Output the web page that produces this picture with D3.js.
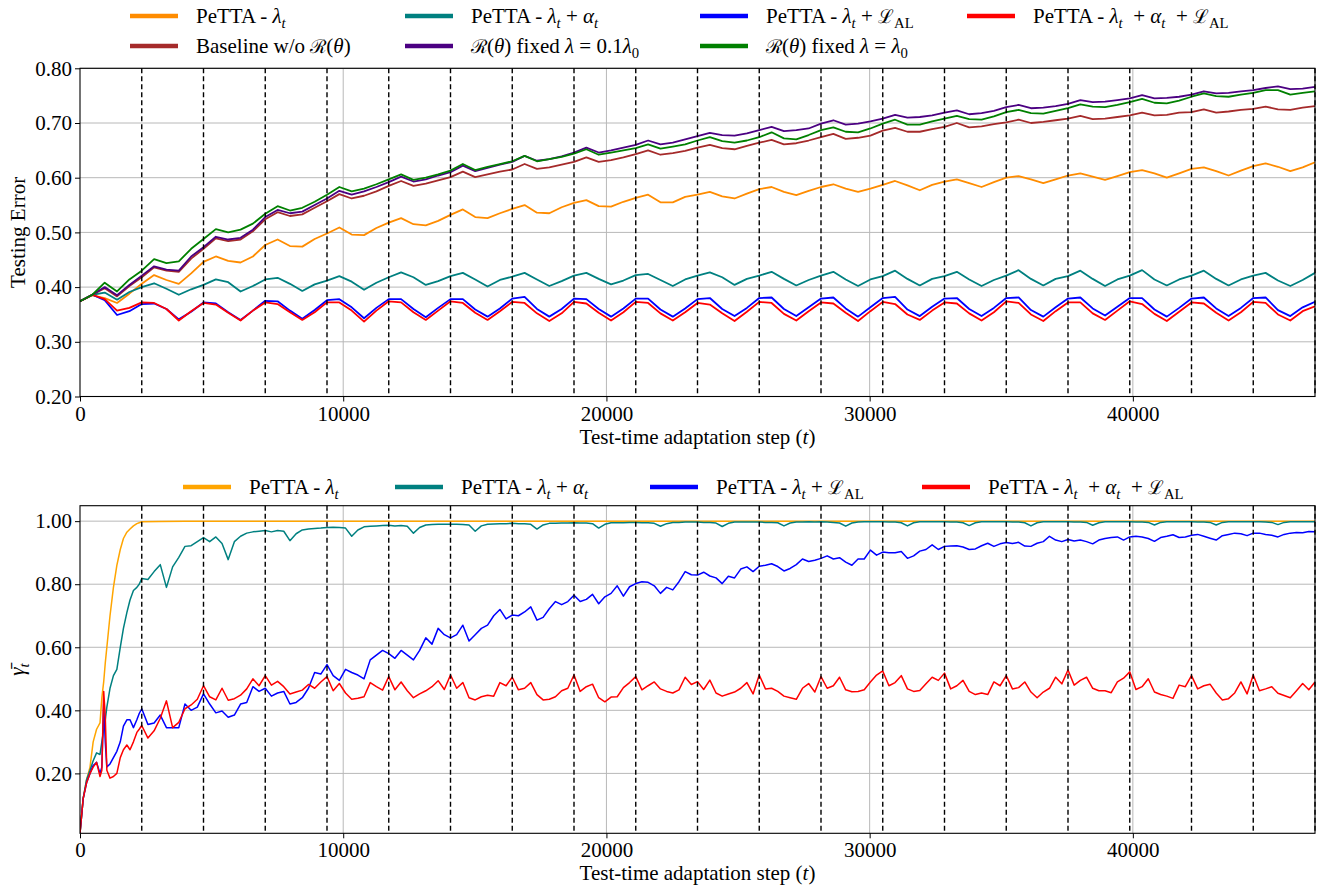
<!DOCTYPE html>
<html lang="en">
<head>
<meta charset="UTF-8">
<title>PeTTA testing error and gamma</title>
<script src="https://d3js.org/d3.v7.min.js"></script>
<style>
  body { margin: 0; background: #fff; }
  svg text { font-family: "Liberation Serif", "DejaVu Serif", serif; fill: #000; white-space: pre; }
</style>
</head>
<body>
<script>
// ---------- data ----------
// top panel: one sample every 469.2 steps (5 per domain of 2346 steps)
var topStep = 469.2;
var domainLen = 2346;
var nDomains = 20;

var errLambda = [
  0.374, 0.385, 0.380, 0.371, 0.388,
  0.406, 0.422, 0.413, 0.406, 0.425,
  0.446, 0.456, 0.448, 0.445, 0.456,
  0.477, 0.487, 0.475, 0.474, 0.488,
  0.498, 0.509, 0.496, 0.495, 0.508,
  0.518, 0.526, 0.515, 0.513, 0.521,
  0.532, 0.542, 0.528, 0.526, 0.535,
  0.543, 0.550, 0.536, 0.535, 0.546,
  0.554, 0.559, 0.548, 0.547, 0.556,
  0.563, 0.569, 0.555, 0.555, 0.565,
  0.569, 0.574, 0.566, 0.562, 0.571,
  0.579, 0.583, 0.574, 0.568, 0.576,
  0.583, 0.588, 0.580, 0.574, 0.580,
  0.587, 0.594, 0.586, 0.577, 0.587,
  0.593, 0.597, 0.590, 0.583, 0.592,
  0.600, 0.603, 0.597, 0.590, 0.597,
  0.604, 0.608, 0.602, 0.596, 0.603,
  0.610, 0.614, 0.608, 0.600, 0.608,
  0.616, 0.619, 0.612, 0.604, 0.613,
  0.621, 0.626, 0.620, 0.612, 0.619,
  0.628];

var errLambdaAlpha = [
  0.374, 0.386, 0.390, 0.377, 0.391,
  0.400, 0.407, 0.397, 0.386, 0.396,
  0.404, 0.414, 0.409, 0.392, 0.402,
  0.414, 0.417, 0.406, 0.393, 0.405,
  0.412, 0.420, 0.410, 0.395, 0.408,
  0.418, 0.427, 0.418, 0.404, 0.411,
  0.420, 0.426, 0.414, 0.401, 0.413,
  0.419, 0.426, 0.414, 0.402, 0.411,
  0.421, 0.426, 0.415, 0.405, 0.412,
  0.422, 0.424, 0.413, 0.402, 0.414,
  0.421, 0.427, 0.418, 0.404, 0.415,
  0.421, 0.428, 0.415, 0.403, 0.413,
  0.421, 0.428, 0.414, 0.402, 0.414,
  0.420, 0.430, 0.415, 0.403, 0.415,
  0.420, 0.428, 0.414, 0.402, 0.413,
  0.421, 0.431, 0.415, 0.403, 0.415,
  0.420, 0.430, 0.415, 0.402, 0.414,
  0.421, 0.431, 0.414, 0.403, 0.414,
  0.421, 0.430, 0.415, 0.403, 0.414,
  0.421, 0.426, 0.412, 0.402, 0.413,
  0.426];

var errLambdaAL = [
  0.374, 0.386, 0.376, 0.349, 0.356,
  0.369, 0.370, 0.360, 0.341, 0.355,
  0.372, 0.370, 0.354, 0.340, 0.357,
  0.375, 0.374, 0.357, 0.342, 0.358,
  0.376, 0.378, 0.363, 0.343, 0.362,
  0.378, 0.378, 0.360, 0.345, 0.362,
  0.378, 0.378, 0.359, 0.346, 0.361,
  0.379, 0.382, 0.360, 0.346, 0.360,
  0.379, 0.378, 0.360, 0.346, 0.361,
  0.379, 0.379, 0.359, 0.346, 0.361,
  0.378, 0.380, 0.360, 0.347, 0.362,
  0.380, 0.381, 0.360, 0.347, 0.363,
  0.379, 0.381, 0.361, 0.346, 0.363,
  0.380, 0.382, 0.359, 0.347, 0.364,
  0.379, 0.380, 0.360, 0.347, 0.362,
  0.380, 0.381, 0.358, 0.346, 0.363,
  0.379, 0.381, 0.361, 0.348, 0.364,
  0.380, 0.380, 0.359, 0.346, 0.362,
  0.379, 0.381, 0.361, 0.347, 0.362,
  0.380, 0.381, 0.358, 0.347, 0.363,
  0.373];

var errFull = [
  0.374, 0.386, 0.378, 0.357, 0.362,
  0.372, 0.371, 0.360, 0.339, 0.356,
  0.371, 0.368, 0.353, 0.339, 0.357,
  0.372, 0.369, 0.354, 0.340, 0.354,
  0.372, 0.372, 0.357, 0.337, 0.357,
  0.374, 0.372, 0.354, 0.340, 0.357,
  0.374, 0.371, 0.353, 0.340, 0.356,
  0.373, 0.371, 0.352, 0.338, 0.352,
  0.373, 0.370, 0.353, 0.339, 0.354,
  0.373, 0.371, 0.352, 0.339, 0.354,
  0.371, 0.368, 0.352, 0.338, 0.355,
  0.373, 0.371, 0.351, 0.339, 0.356,
  0.372, 0.370, 0.353, 0.338, 0.356,
  0.373, 0.369, 0.350, 0.340, 0.357,
  0.372, 0.370, 0.352, 0.339, 0.354,
  0.374, 0.371, 0.350, 0.338, 0.356,
  0.372, 0.372, 0.352, 0.340, 0.357,
  0.374, 0.369, 0.351, 0.338, 0.355,
  0.372, 0.370, 0.353, 0.339, 0.354,
  0.373, 0.371, 0.350, 0.339, 0.356,
  0.365];

var errBaseline = [
  0.374, 0.386, 0.398, 0.383, 0.402,
  0.418, 0.436, 0.430, 0.428, 0.452,
  0.470, 0.489, 0.484, 0.487, 0.502,
  0.524, 0.537, 0.530, 0.533, 0.545,
  0.557, 0.570, 0.562, 0.567, 0.575,
  0.585, 0.594, 0.585, 0.589, 0.595,
  0.601, 0.611, 0.601, 0.606, 0.611,
  0.615, 0.625, 0.616, 0.619, 0.624,
  0.629, 0.637, 0.629, 0.632, 0.637,
  0.643, 0.650, 0.642, 0.645, 0.649,
  0.655, 0.660, 0.654, 0.652, 0.658,
  0.664, 0.669, 0.661, 0.663, 0.668,
  0.674, 0.680, 0.671, 0.673, 0.677,
  0.686, 0.691, 0.684, 0.684, 0.689,
  0.693, 0.700, 0.692, 0.694, 0.698,
  0.701, 0.706, 0.700, 0.702, 0.705,
  0.708, 0.713, 0.707, 0.708, 0.711,
  0.714, 0.719, 0.714, 0.715, 0.719,
  0.720, 0.725, 0.719, 0.721, 0.724,
  0.726, 0.730, 0.725, 0.724, 0.728,
  0.731];

var errFixedTenth = [
  0.374, 0.386, 0.400, 0.385, 0.404,
  0.421, 0.438, 0.432, 0.430, 0.456,
  0.473, 0.492, 0.487, 0.490, 0.505,
  0.528, 0.541, 0.535, 0.538, 0.550,
  0.562, 0.576, 0.569, 0.575, 0.583,
  0.592, 0.602, 0.593, 0.597, 0.604,
  0.610, 0.622, 0.612, 0.618, 0.624,
  0.629, 0.640, 0.631, 0.634, 0.639,
  0.646, 0.655, 0.646, 0.650, 0.655,
  0.660, 0.668, 0.661, 0.664, 0.670,
  0.676, 0.682, 0.678, 0.677, 0.681,
  0.687, 0.693, 0.685, 0.687, 0.690,
  0.699, 0.705, 0.697, 0.699, 0.703,
  0.708, 0.715, 0.710, 0.711, 0.714,
  0.719, 0.723, 0.716, 0.718, 0.722,
  0.729, 0.733, 0.727, 0.728, 0.731,
  0.735, 0.742, 0.738, 0.739, 0.742,
  0.745, 0.751, 0.745, 0.746, 0.748,
  0.752, 0.758, 0.754, 0.755, 0.758,
  0.760, 0.764, 0.767, 0.762, 0.763,
  0.766];

var errFixedFull = [
  0.374, 0.386, 0.408, 0.392, 0.414,
  0.430, 0.451, 0.444, 0.447, 0.470,
  0.488, 0.506, 0.500, 0.505, 0.516,
  0.534, 0.548, 0.540, 0.545, 0.556,
  0.569, 0.583, 0.575, 0.580, 0.588,
  0.597, 0.606, 0.596, 0.600, 0.606,
  0.613, 0.625, 0.614, 0.620, 0.625,
  0.630, 0.640, 0.630, 0.634, 0.638,
  0.644, 0.652, 0.642, 0.646, 0.650,
  0.654, 0.661, 0.653, 0.657, 0.661,
  0.668, 0.674, 0.667, 0.664, 0.668,
  0.674, 0.683, 0.672, 0.670, 0.678,
  0.687, 0.692, 0.684, 0.683, 0.690,
  0.699, 0.706, 0.697, 0.697, 0.703,
  0.708, 0.713, 0.707, 0.706, 0.712,
  0.720, 0.724, 0.718, 0.717, 0.722,
  0.727, 0.734, 0.730, 0.729, 0.733,
  0.738, 0.744, 0.737, 0.736, 0.741,
  0.748, 0.754, 0.749, 0.748, 0.752,
  0.755, 0.760, 0.760, 0.752, 0.755,
  0.758];

// bottom panel: dense steps during the first domain, then every 234.6 steps
var gammaEarlySteps = [0, 120, 250, 380, 500, 630, 760, 830, 900, 960, 1020,
  1140, 1270, 1400, 1530, 1650, 1780, 1900, 2030, 2160, 2250];
var gammaStep = 234.6;

var gammaLambdaSteps = [0, 120, 250, 380, 500, 630, 760, 830, 900, 960, 1020,
  1140, 1270, 1400, 1530, 1650, 1780, 1900, 2030, 2160, 2250, 2346, 3000, 4000, 5000, 46920];
var gammaLambda = [0.01, 0.12, 0.18, 0.22, 0.30, 0.34, 0.36, 0.44, 0.49, 0.55, 0.60,
  0.70, 0.79, 0.86, 0.91, 0.945, 0.965, 0.975, 0.985, 0.992, 0.995, 0.998, 0.999, 0.9995, 1.0, 1.0];

var gammaLambdaAlpha = [
  0.01, 0.12, 0.18, 0.21, 0.24, 0.265, 0.26, 0.30, 0.34, 0.37, 0.41,
  0.47, 0.51, 0.53, 0.60, 0.66, 0.71, 0.75, 0.78, 0.79, 0.80,
  0.818, 0.815, 0.840, 0.862, 0.790, 0.855, 0.885, 0.920, 0.922, 0.935,
  0.948, 0.935, 0.950, 0.929, 0.878, 0.935, 0.952, 0.962, 0.966, 0.968,
  0.970, 0.966, 0.970, 0.968, 0.938, 0.960, 0.972, 0.975, 0.977, 0.978,
  0.980, 0.981, 0.980, 0.978, 0.952, 0.972, 0.982, 0.984, 0.985, 0.986,
  0.987, 0.985, 0.986, 0.984, 0.962, 0.980, 0.988, 0.989, 0.990, 0.990,
  0.990, 0.990, 0.989, 0.988, 0.968, 0.985, 0.990, 0.991, 0.992, 0.992,
  0.993, 0.992, 0.992, 0.990, 0.975, 0.988, 0.993, 0.993, 0.994, 0.994,
  0.995, 0.994, 0.994, 0.992, 0.978, 0.990, 0.995, 0.995, 0.995, 0.996,
  0.996, 0.995, 0.995, 0.993, 0.984, 0.992, 0.996, 0.996, 0.997, 0.997,
  0.997, 0.996, 0.996, 0.994, 0.983, 0.993, 0.997, 0.997, 0.997, 0.997,
  0.997, 0.996, 0.996, 0.995, 0.985, 0.994, 0.997, 0.997, 0.998, 0.997,
  0.998, 0.997, 0.996, 0.994, 0.984, 0.994, 0.997, 0.998, 0.998, 0.998,
  0.998, 0.997, 0.997, 0.995, 0.985, 0.995, 0.998, 0.998, 0.998, 0.998,
  0.998, 0.997, 0.997, 0.995, 0.986, 0.995, 0.998, 0.998, 0.998, 0.998,
  0.998, 0.997, 0.997, 0.995, 0.985, 0.995, 0.998, 0.998, 0.998, 0.998,
  0.998, 0.997, 0.997, 0.996, 0.987, 0.995, 0.998, 0.998, 0.998, 0.998,
  0.998, 0.997, 0.997, 0.996, 0.988, 0.996, 0.998, 0.998, 0.998, 0.998,
  0.998, 0.997, 0.997, 0.996, 0.988, 0.996, 0.998, 0.998, 0.998, 0.998,
  0.998, 0.998, 0.997, 0.996, 0.989, 0.996, 0.998, 0.998, 0.998, 0.998,
  0.998];

var gammaLambdaAL = [
  0.01, 0.12, 0.17, 0.20, 0.225, 0.235, 0.20, 0.22, 0.42, 0.30, 0.22,
  0.23, 0.25, 0.27, 0.30, 0.35, 0.37, 0.37, 0.345, 0.37, 0.39,
  0.405, 0.355, 0.360, 0.385, 0.345, 0.345, 0.345, 0.420, 0.400, 0.410,
  0.452, 0.420, 0.392, 0.398, 0.378, 0.385, 0.420, 0.425, 0.475, 0.460,
  0.470, 0.445, 0.455, 0.460, 0.420, 0.425, 0.440, 0.470, 0.520, 0.515,
  0.545, 0.510, 0.495, 0.530, 0.520, 0.512, 0.500, 0.560, 0.575, 0.590,
  0.580, 0.565, 0.590, 0.575, 0.560, 0.590, 0.630, 0.610, 0.660, 0.640,
  0.630, 0.640, 0.670, 0.620, 0.640, 0.660, 0.670, 0.700, 0.720, 0.690,
  0.702, 0.700, 0.712, 0.728, 0.686, 0.695, 0.722, 0.745, 0.735, 0.745,
  0.765, 0.745, 0.752, 0.768, 0.738, 0.760, 0.771, 0.795, 0.762, 0.792,
  0.802, 0.808, 0.806, 0.795, 0.771, 0.790, 0.782, 0.808, 0.840, 0.830,
  0.829, 0.838, 0.826, 0.820, 0.802, 0.825, 0.820, 0.848, 0.855, 0.840,
  0.857, 0.860, 0.865, 0.856, 0.842, 0.850, 0.862, 0.880, 0.872, 0.876,
  0.882, 0.890, 0.880, 0.884, 0.870, 0.860, 0.880, 0.880, 0.908, 0.892,
  0.902, 0.900, 0.900, 0.904, 0.882, 0.890, 0.905, 0.910, 0.925, 0.910,
  0.920, 0.921, 0.922, 0.918, 0.910, 0.912, 0.922, 0.930, 0.920, 0.928,
  0.932, 0.929, 0.933, 0.921, 0.920, 0.930, 0.935, 0.952, 0.940, 0.935,
  0.942, 0.937, 0.940, 0.935, 0.928, 0.940, 0.945, 0.948, 0.950, 0.940,
  0.950, 0.952, 0.950, 0.945, 0.936, 0.948, 0.952, 0.957, 0.948, 0.950,
  0.955, 0.958, 0.952, 0.946, 0.940, 0.954, 0.958, 0.962, 0.960, 0.954,
  0.962, 0.962, 0.958, 0.955, 0.950, 0.958, 0.962, 0.964, 0.963, 0.967,
  0.966];

var gammaFull = [
  0.01, 0.12, 0.17, 0.20, 0.22, 0.235, 0.19, 0.21, 0.46, 0.38, 0.21,
  0.185, 0.19, 0.20, 0.25, 0.275, 0.29, 0.275, 0.30, 0.33, 0.34,
  0.352, 0.312, 0.335, 0.375, 0.430, 0.345, 0.362, 0.405, 0.417, 0.435,
  0.478, 0.443, 0.433, 0.470, 0.432, 0.437, 0.448, 0.468, 0.500, 0.478,
  0.510, 0.480, 0.492, 0.475, 0.452, 0.458, 0.464, 0.482, 0.470, 0.490,
  0.507, 0.462, 0.485, 0.455, 0.435, 0.438, 0.443, 0.488, 0.475, 0.464,
  0.507, 0.465, 0.490, 0.462, 0.440, 0.452, 0.462, 0.475, 0.494, 0.466,
  0.512, 0.470, 0.488, 0.440, 0.433, 0.443, 0.448, 0.445, 0.488, 0.478,
  0.505, 0.465, 0.470, 0.488, 0.450, 0.433, 0.435, 0.443, 0.462, 0.470,
  0.512, 0.460, 0.475, 0.483, 0.440, 0.427, 0.442, 0.443, 0.472, 0.488,
  0.507, 0.465, 0.478, 0.490, 0.468, 0.460, 0.455, 0.465, 0.505, 0.482,
  0.491, 0.466, 0.496, 0.455, 0.445, 0.452, 0.458, 0.470, 0.488, 0.452,
  0.512, 0.468, 0.470, 0.460, 0.445, 0.440, 0.435, 0.470, 0.485, 0.458,
  0.507, 0.470, 0.478, 0.505, 0.465, 0.459, 0.460, 0.465, 0.490, 0.512,
  0.525, 0.478, 0.488, 0.510, 0.468, 0.460, 0.463, 0.484, 0.505, 0.495,
  0.518, 0.468, 0.478, 0.495, 0.460, 0.450, 0.455, 0.450, 0.490, 0.478,
  0.510, 0.468, 0.472, 0.490, 0.458, 0.440, 0.458, 0.470, 0.505, 0.484,
  0.528, 0.480, 0.495, 0.505, 0.470, 0.462, 0.462, 0.456, 0.490, 0.502,
  0.522, 0.466, 0.475, 0.500, 0.458, 0.450, 0.445, 0.438, 0.480, 0.475,
  0.510, 0.468, 0.478, 0.483, 0.455, 0.433, 0.437, 0.455, 0.490, 0.452,
  0.512, 0.462, 0.468, 0.475, 0.454, 0.447, 0.440, 0.462, 0.485, 0.465,
  0.490];

var xTicks = [0, 10000, 20000, 30000, 40000];
var errTicks = [0.20, 0.30, 0.40, 0.50, 0.60, 0.70, 0.80];
var gammaTicks = [0.20, 0.40, 0.60, 0.80, 1.00];

// label pieces: [text, kind]  kind: r roman, i italic, s italic subscript, sr roman subscript, c script
var lamT = [["λ", "i"], ["t", "s"]];
var alphaT = [["α", "i"], ["t", "s"]];
var calL = [["ℒ", "c"], ["AL", "sr"]];
var calR = [["ℛ", "c"], ["(", "r"], ["θ", "i"], [")", "r"]];
var labLambda = [["PeTTA - ", "r"]].concat(lamT);
var labLambdaAlpha = labLambda.concat([[" + ", "r"]], alphaT);
var labLambdaAL = labLambda.concat([[" + ", "r"]], calL);
var labFull = labLambda.concat([["  + ", "r"]], alphaT, [["  + ", "r"]], calL);
var labBaseline = [["Baseline w/o ", "r"]].concat(calR);
var labTenth = calR.concat([[" fixed ", "r"], ["λ", "i"], [" = 0.1", "r"], ["λ", "i"], ["0", "sr"]]);
var labFixed = calR.concat([[" fixed ", "r"], ["λ", "i"], [" = ", "r"], ["λ", "i"], ["0", "sr"]]);

var topSeries = [
  { values: errLambda, color: "#ff8c00", label: labLambda },
  { values: errLambdaAlpha, color: "#008080", label: labLambdaAlpha },
  { values: errLambdaAL, color: "#0000ff", label: labLambdaAL },
  { values: errFull, color: "#ff0000", label: labFull },
  { values: errBaseline, color: "#a52a2a", label: labBaseline },
  { values: errFixedTenth, color: "#4b0082", label: labTenth },
  { values: errFixedFull, color: "#008000", label: labFixed }
];

var gammaSteps = gammaEarlySteps.concat(d3.range(10, 201).map(function (j) { return j * gammaStep; }));
var bottomSeries = [
  { steps: gammaLambdaSteps, values: gammaLambda, color: "#ffa500", label: labLambda },
  { steps: gammaSteps, values: gammaLambdaAlpha, color: "#008080", label: labLambdaAlpha },
  { steps: gammaSteps, values: gammaLambdaAL, color: "#0000ff", label: labLambdaAL },
  { steps: gammaSteps, values: gammaFull, color: "#ff0000", label: labFull }
];

// ---------- drawing ----------
var W = 1320, H = 888;
var left = 80, right = 1315;
var serif = '"Liberation Serif", "DejaVu Serif", serif';
var svg = d3.select("body").append("svg").attr("width", W).attr("height", H);

function rich(sel, pieces, size) {
  var shifted = false;
  pieces.forEach(function (p) {
    var ts = sel.append("tspan").text(p[0]);
    var sub = p[1] === "s" || p[1] === "sr";
    if (p[1] === "i" || p[1] === "s") ts.style("font-style", "italic");
    if (p[1] === "c") ts.style("font-family", '"DejaVu Serif", serif').style("font-size", (size * 0.9) + "px");
    if (sub && !shifted) { ts.attr("dy", size * 0.25); shifted = true; }
    if (!sub && shifted) { ts.attr("dy", -size * 0.25); shifted = false; }
    if (sub) ts.style("font-size", (size * 0.7) + "px");
  });
}

var x = d3.scaleLinear().domain([0, domainLen * nDomains]).range([left, right]);

function panel(y0, y1, yDomain, yTicks, series, stepsFor, ylabel, id, lw) {
  var y = d3.scaleLinear().domain(yDomain).range([y1, y0]);
  var g = svg.append("g");

  g.append("clipPath").attr("id", id).append("rect")
    .attr("x", left).attr("y", y0).attr("width", right - left).attr("height", y1 - y0);

  // grid
  g.selectAll(".hg").data(yTicks).enter().append("line")
    .attr("x1", left).attr("x2", right)
    .attr("y1", function (d) { return y(d); }).attr("y2", function (d) { return y(d); })
    .attr("stroke", "#b8b8b8").attr("stroke-width", 1);
  g.selectAll(".vg").data(xTicks.slice(1)).enter().append("line")
    .attr("x1", function (d) { return x(d); }).attr("x2", function (d) { return x(d); })
    .attr("y1", y0).attr("y2", y1)
    .attr("stroke", "#b8b8b8").attr("stroke-width", 1);

  // series
  var lines = g.append("g").attr("clip-path", "url(#" + id + ")");
  series.forEach(function (s) {
    var steps = stepsFor(s);
    var line = d3.line()
      .x(function (d, i) { return x(steps[i]); })
      .y(function (d) { return y(d); });
    lines.append("path").datum(s.values)
      .attr("d", line).attr("fill", "none")
      .attr("stroke", s.color).attr("stroke-width", lw)
      .attr("stroke-linejoin", "round");
  });

  // domain boundaries
  g.selectAll(".db").data(d3.range(1, nDomains + 1)).enter().append("line")
    .attr("x1", function (d) { return x(d * domainLen); }).attr("x2", function (d) { return x(d * domainLen); })
    .attr("y1", y0).attr("y2", y1)
    .attr("stroke", "#000").attr("stroke-width", 1.4).attr("stroke-dasharray", "5,3");

  // spines
  g.append("rect").attr("x", left).attr("y", y0).attr("width", right - left).attr("height", y1 - y0)
    .attr("fill", "none").attr("stroke", "#000").attr("stroke-width", 1.1);

  // axes
  var ax = g.append("g").attr("transform", "translate(0," + y1 + ")")
    .call(d3.axisBottom(x).tickValues(xTicks).tickFormat(d3.format("d")).tickSizeOuter(0).tickSize(5).tickPadding(4));
  var ay = g.append("g").attr("transform", "translate(" + left + ",0)")
    .call(d3.axisLeft(y).tickValues(yTicks).tickFormat(d3.format(".2f")).tickSizeOuter(0).tickSize(5).tickPadding(3));
  [ax, ay].forEach(function (a) {
    a.attr("font-family", null).attr("font-size", null);
    a.select(".domain").remove();
    a.selectAll("line").attr("stroke", "#000");
    a.selectAll("text").style("font-family", serif).style("font-size", "21px").attr("fill", "#000");
  });
  ax.selectAll("text").attr("dy", "0.72em");

  // x label
  var xl = g.append("text").attr("x", (left + right) / 2).attr("y", y1 + 47)
    .attr("text-anchor", "middle").style("font-size", "21px");
  rich(xl, [["Test-time adaptation step (", "r"], ["t", "i"], [")", "r"]], 21);

  // y label
  var yl = g.append("text").attr("text-anchor", "middle").style("font-size", "21px")
    .attr("transform", "translate(" + ylabel.x + "," + ((y0 + y1) / 2) + ") rotate(-90)");
  rich(yl, ylabel.pieces, 21);
  return g;
}

panel(68.3, 396.5, [0.2, 0.8], errTicks, topSeries,
  function () { return d3.range(101).map(function (i) { return i * topStep; }); },
  { x: 25, pieces: [["Testing Error", "r"]] }, "clipTop", 1.8);

panel(505.7, 833.3, [0.01, 1.049], gammaTicks, bottomSeries,
  function (s) { return s.steps; },
  { x: 24, pieces: [["γ̄", "i"], ["t", "s"]] }, "clipBottom", 1.5);

// legends
function legend(series, slots) {
  series.forEach(function (s, k) {
    var slot = slots[k];
    svg.append("line").attr("x1", slot[0]).attr("x2", slot[0] + 48)
      .attr("y1", slot[1]).attr("y2", slot[1])
      .attr("stroke", s.color).attr("stroke-width", 4.5);
    var t = svg.append("text").attr("x", slot[0] + 66).attr("y", slot[1] + 7).style("font-size", "21px");
    rich(t, s.label, 21);
  });
}
legend(topSeries, [[130, 16], [405, 16], [700, 16], [967, 16], [130, 46], [405, 46], [700, 46]]);
legend(bottomSeries, [[183, 487], [395, 487], [650, 487], [922, 487]]);
</script>
</body>
</html>
